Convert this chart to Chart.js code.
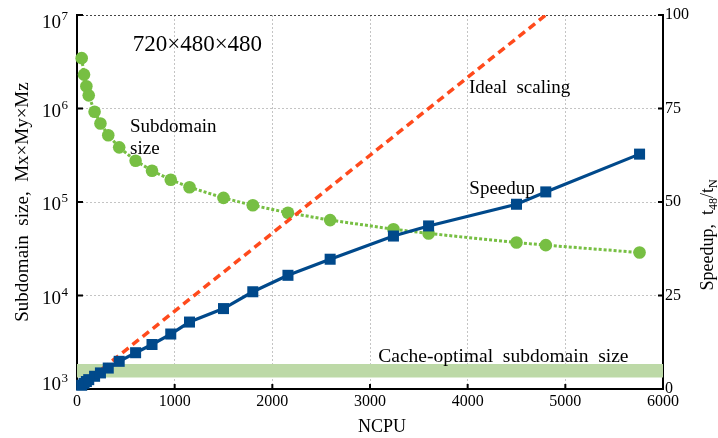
<!DOCTYPE html>
<html>
<head>
<meta charset="utf-8">
<script src="https://cdn.jsdelivr.net/npm/chart.js@4.4.0/dist/chart.umd.min.js"></script>
<style>
html, body { margin: 0; padding: 0; background: #fff; }
</style>
</head>
<body>
<canvas id="scalingChart" width="718" height="438"></canvas>
<script>
// runs on a 720x480x480 grid
var ncpu = [48, 72, 96, 120, 180, 240, 320, 432, 600, 768, 960, 1152, 1500, 1800, 2160, 2592, 3240, 3600, 4500, 4800, 5760];
// subdomain size Mx*My*Mz (left axis)
var subSize = [3456000, 2304000, 1728000, 1382400, 921600, 691200, 518400, 384000, 276480, 216000, 172800, 144000,
               110592, 92160, 76800, 64000, 51200, 46080, 36864, 34560, 28800];
// speedup t48/tN (right axis)
var speedup = [1, 1.5, 2.0, 2.5, 3.4, 4.3, 5.6, 7.4, 9.7, 11.9, 14.7, 17.9, 21.5, 26.0, 30.4, 34.7, 40.9, 43.6, 49.4, 52.7, 62.8];
// ideal scaling
var idealCpu = [48, 4800];
var idealSpeedup = [1, 100];
// cache-optimal subdomain size band
var cacheBand = [1330, 1850];

var xTicks = [0, 1000, 2000, 3000, 4000, 5000, 6000];
var sizeTicks = [1e3, 1e4, 1e5, 1e6, 1e7];
var sizeExp = ["3", "4", "5", "6", "7"];
var speedTicks = [0, 25, 50, 75, 100];

var serif = "'Liberation Serif', 'Times New Roman', serif";
Chart.defaults.font.family = serif;
Chart.defaults.color = "#000";

function pts(xs, ys) {
    return xs.map(function (v, i) { return { x: v, y: ys[i] }; });
}

// inward ticks, custom log labels, titles and notes
var extras = {
    id: "extras",
    beforeDatasetsDraw: function (chart) {
        var ctx = chart.ctx, a = chart.chartArea;
        var sx = chart.scales.x, sy = chart.scales.y, s2 = chart.scales.y2;
        ctx.save();
        ctx.strokeStyle = "#000";
        ctx.lineWidth = 2;
        ctx.beginPath();
        xTicks.forEach(function (v) {
            var p = sx.getPixelForValue(v);
            ctx.moveTo(p, a.bottom); ctx.lineTo(p, a.bottom - 5);
        });
        sizeTicks.forEach(function (v) {
            var p = sy.getPixelForValue(v);
            ctx.moveTo(a.left, p); ctx.lineTo(a.left + 6, p);
        });
        speedTicks.forEach(function (v) {
            var p = s2.getPixelForValue(v);
            ctx.moveTo(a.right, p); ctx.lineTo(a.right - 5, p);
        });
        ctx.stroke();
        ctx.restore();
    },
    afterDraw: function (chart) {
        var ctx = chart.ctx, a = chart.chartArea;
        var sx = chart.scales.x, sy = chart.scales.y, s2 = chart.scales.y2;
        ctx.save();
        ctx.fillStyle = "#000";
        ctx.textBaseline = "alphabetic";

        // log axis labels 10^n
        sizeTicks.forEach(function (v, i) {
            var p = sy.getPixelForValue(v);
            var base = Math.min(Math.max(p + 8, a.top + 13), a.bottom + 1);
            ctx.textAlign = "right";
            ctx.font = "13px " + serif;
            var ew = ctx.measureText(sizeExp[i]).width;
            ctx.fillText(sizeExp[i], 68, base - 8);
            ctx.font = "19px " + serif;
            ctx.fillText("10", 68 - ew - 0.5, base);
        });

        ctx.textAlign = "left";
        ctx.font = "23px " + serif;
        ctx.fillText("720\u00d7480\u00d7480", sx.getPixelForValue(570), sy.getPixelForValue(4.1e6));
        ctx.font = "19px " + serif;
        ctx.fillText("Subdomain", sx.getPixelForValue(543), sy.getPixelForValue(5.65e5));
        ctx.fillText("size", sx.getPixelForValue(543), sy.getPixelForValue(3.26e5));
        ctx.fillText("Ideal  scaling", sx.getPixelForValue(4013), s2.getPixelForValue(79.1));
        ctx.fillText("Speedup", sx.getPixelForValue(4017), s2.getPixelForValue(52.1));
        ctx.font = "19.5px " + serif;
        ctx.fillText("Cache-optimal  subdomain  size", sx.getPixelForValue(3085), sy.getPixelForValue(1958));

        // x title
        ctx.textAlign = "center";
        ctx.font = "18px " + serif;
        ctx.fillText("NCPU", 382, 432);

        // left title
        ctx.save();
        ctx.translate(28, (a.top + a.bottom) / 2);
        ctx.rotate(-Math.PI / 2);
        ctx.font = "19px " + serif;
        ctx.fillText("Subdomain  size,  Mx\u00d7My\u00d7Mz", 0, 0);
        ctx.restore();

        // right title with subscripts
        ctx.save();
        ctx.translate(713, 235);
        ctx.rotate(-Math.PI / 2);
        var parts = [["Speedup,  t", 18, 0], ["48", 12, 4], ["/t", 18, 0], ["N", 12, 4]];
        var total = 0;
        parts.forEach(function (pt) { ctx.font = pt[1] + "px " + serif; total += ctx.measureText(pt[0]).width; });
        var cx = -total / 2;
        ctx.textAlign = "left";
        parts.forEach(function (pt) {
            ctx.font = pt[1] + "px " + serif;
            ctx.fillText(pt[0], cx, pt[2]);
            cx += ctx.measureText(pt[0]).width;
        });
        ctx.restore();

        ctx.restore();
    }
};

var scalingChart = new Chart("scalingChart", {
    type: "line",
    data: {
        datasets: [{
            data: [{ x: 0, y: cacheBand[1] }, { x: 6000, y: cacheBand[1] }],
            yAxisID: "y",
            borderWidth: 0,
            pointRadius: 0,
            backgroundColor: "#bdd9a7",
            fill: { value: cacheBand[0] },
            order: 5
        }, {
            data: pts(ncpu, subSize),
            yAxisID: "y",
            borderColor: "#77bf43",
            borderWidth: 3,
            borderDash: [3, 2],
            pointRadius: 6.3,
            pointBorderWidth: 0,
            pointBackgroundColor: "#77bf43",
            fill: false,
            clip: false,
            order: 4
        }, {
            data: pts(idealCpu, idealSpeedup),
            yAxisID: "y2",
            borderColor: "#ff4a1c",
            borderWidth: 3.5,
            borderDash: [8, 5],
            pointRadius: 0,
            fill: false,
            order: 3
        }, {
            data: pts(ncpu, speedup),
            yAxisID: "y2",
            borderColor: "#00498b",
            borderWidth: 3.2,
            pointStyle: "rect",
            pointRadius: 7.8,
            pointBorderWidth: 0,
            pointBackgroundColor: "#00498b",
            fill: false,
            clip: false,
            order: 1
        }]
    },
    options: {
        responsive: false,
        animation: false,
        layout: { padding: { top: 15, left: 0, right: 0, bottom: 0 } },
        plugins: { legend: { display: false }, tooltip: { enabled: false } },
        scales: {
            x: {
                type: "linear", min: 0, max: 6000,
                afterBuildTicks: function (s) { s.ticks = xTicks.map(function (v) { return { value: v }; }); },
                afterFit: function (s) { s.height = 49; },
                grid: { color: "#c4c4c4", lineWidth: 1, drawTicks: false },
                border: { color: "#000", width: 2, dash: [2, 2] },
                ticks: { font: { size: 16 }, padding: 3, maxRotation: 0, callback: function (v) { return String(v); } }
            },
            y: {
                type: "logarithmic", position: "left", min: 1e3, max: 1e7,
                afterBuildTicks: function (s) { s.ticks = sizeTicks.map(function (v) { return { value: v }; }); },
                afterFit: function (s) { s.width = 77; },
                grid: {
                    color: function (c) { return c.tick && c.tick.value === 1e7 ? "#444" : "#c4c4c4"; },
                    lineWidth: 1, drawTicks: false
                },
                border: { color: "#000", width: 2, dash: [2, 2] },
                ticks: { display: false }
            },
            y2: {
                type: "linear", position: "right", min: 0, max: 100,
                afterBuildTicks: function (s) { s.ticks = speedTicks.map(function (v) { return { value: v }; }); },
                afterFit: function (s) { s.width = 55; },
                grid: { display: false, drawTicks: false },
                border: { color: "#000", width: 2 },
                ticks: { font: { size: 16 }, padding: 2 }
            }
        }
    },
    plugins: [extras]
});
</script>
</body>
</html>
